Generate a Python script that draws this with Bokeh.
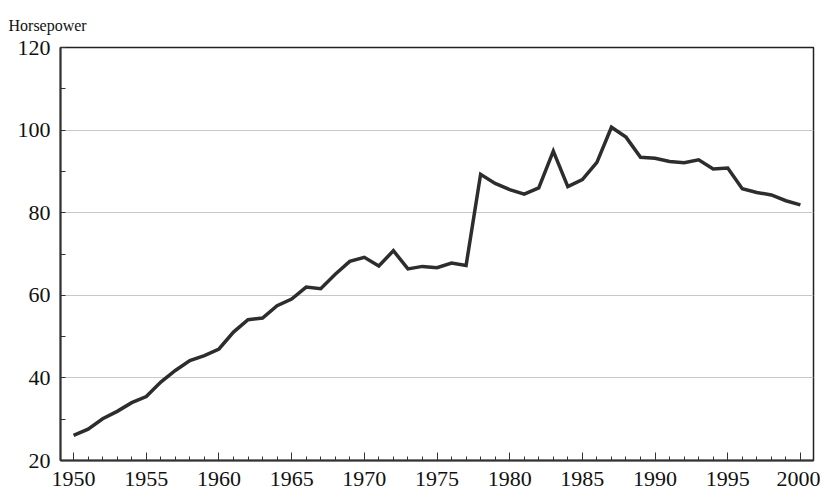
from bokeh.plotting import figure
from bokeh.models import Range1d, FixedTicker
from bokeh.embed import file_html
from bokeh.resources import INLINE

years = list(range(1950, 2001))
horsepower = [26.1, 27.6, 30.1, 31.9, 34.0, 35.5, 39.0, 41.8, 44.2, 45.4,
              47.0, 51.1, 54.1, 54.5, 57.5, 59.1, 62.0, 61.6, 65.1, 68.2,
              69.2, 67.1, 70.8, 66.4, 67.0, 66.7, 67.8, 67.2, 89.3, 87.1,
              85.6, 84.5, 86.0, 94.9, 86.3, 88.0, 92.2, 100.7, 98.3, 93.4,
              93.2, 92.4, 92.1, 92.8, 90.6, 90.8, 85.8, 84.9, 84.3, 82.9, 81.9]
x_ticks = [1950, 1955, 1960, 1965, 1970, 1975, 1980, 1985, 1990, 1995, 2000]
y_ticks = [20, 40, 60, 80, 100, 120]
y_label = "Horsepower"

FONT = "Liberation Serif"

p = figure(width=820, height=490, output_backend="svg", toolbar_location=None,
           x_range=Range1d(1949.1, 2000.9), y_range=Range1d(20, 120),
           min_border_left=60, min_border_right=7, min_border_top=47,
           min_border_bottom=30)

p.title.text = y_label
p.title.text_font = FONT
p.title.text_font_size = "16px"
p.title.text_font_style = "normal"
p.title.text_color = "#111111"
p.title.align = "left"
p.title.offset = -52
p.title.standoff = 28

p.line(years, horsepower, line_color="#2d2d2d", line_width=3.5, line_join="miter")

p.outline_line_color = "#222222"
p.outline_line_width = 1.5

p.xaxis.ticker = FixedTicker(ticks=x_ticks, minor_ticks=years)
p.yaxis.ticker = FixedTicker(ticks=y_ticks, minor_ticks=list(range(20, 121, 10)))

for ax in (p.xaxis, p.yaxis):
    ax.axis_line_color = "#333333"
    ax.axis_line_width = 2
    ax.major_tick_line_color = "#333333"
    ax.minor_tick_line_color = "#333333"
    ax.major_tick_out = 0
    ax.minor_tick_out = 0
    ax.major_label_text_font = FONT
    ax.major_label_text_font_size = "22px"
    ax.major_label_text_color = "#111111"

p.xaxis.major_tick_in = 8
p.xaxis.minor_tick_in = 4
p.xaxis.major_label_standoff = 11
p.yaxis.major_tick_in = 0
p.yaxis.minor_tick_in = 5
p.yaxis.major_label_standoff = 10

p.xgrid.grid_line_color = None
p.ygrid.grid_line_color = "#c8c8c8"
p.ygrid.grid_line_width = 1

open("out.html", "w").write(file_html(p, INLINE))
